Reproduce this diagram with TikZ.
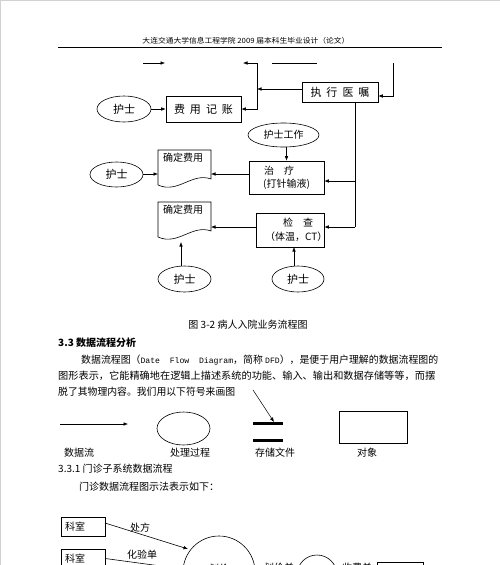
\documentclass[tikz,border=0pt]{standalone}
\usepackage{fontspec}
\usepackage{graphicx}
\setmainfont{Noto Sans CJK SC}
\newfontfamily\monofont{Liberation Mono}
\usetikzlibrary{arrows.meta,shapes.geometric}
\newcommand\fsz{\fontsize{10}{12}\selectfont}
\newcommand\fsy{\fontsize{11}{13}\selectfont}
\newcommand\mono[1]{{\monofont\fontsize{8.2}{10}\selectfont #1}}
\tikzset{
  ln/.style={line width=0.6pt},
  arr/.style={ln,-{Latex[length=4.5pt,width=3.6pt]}},
  box/.style={draw,ln,rectangle,inner sep=0pt},
  ell/.style={draw,ln,ellipse,inner sep=0pt},
  txt/.style={inner sep=0pt,font=\fsz},
}
\begin{document}
\begin{tikzpicture}[x=1pt,y=-1pt]
\useasboundingbox (0,0) rectangle (500,565);
\clip (0,0) rectangle (500,565);
\fill[white] (0,0) rectangle (500,565);
\draw[gray!35,line width=1.4pt] (0.7,565) -- (0.7,0.7) -- (500,0.7);

% header
\node[inner sep=0pt,font=\fontsize{7.2}{8}\selectfont] (hdr) at (246,41) {\resizebox{207pt}{\height}{大连交通大学信息工程学院 2009 届本科生毕业设计（论文）}};
\coordinate (h1) at (58,47); \coordinate (h2) at (442,47);
\draw[line width=0.8pt] (h1) -- (h2);

% top flow fragments
\node[box,minimum width=76pt,minimum height=19.5pt,font=\fsy] (zxyz) at (340,92.5) {执\hspace{5pt}行\hspace{5pt}医\hspace{5pt}嘱};
\node[box,minimum width=75pt,minimum height=26pt,font=\fsy] (fyjz) at (203.5,109) {费\hspace{5pt}用\hspace{5pt}记\hspace{5pt}账};
\node[ell,minimum width=54pt,minimum height=26pt,font=\fsy] (hs1) at (124,109) {护士};

\coordinate (a1) at (143,63); \coordinate (a2) at (165,63);
\draw[arr] (a1) -- (a2);
\coordinate (b1) at (257,63); \coordinate (b0) at (243,63); \coordinate (b2) at (257,89);
\draw[arr] (b1) -- (b0);
\draw[arr] (b1) |- (fyjz.east);
\draw[arr] (zxyz.west |- b2) -- (b2);
\coordinate (l1) at (272,63); \coordinate (l2) at (317,63);
\draw[ln] (l1) -- (l2);
\coordinate (c1) at (393,63); \coordinate (c2) at (393,96);
\draw[arr] (c1) -- (c2) -- (zxyz.east |- c2);
\draw[arr] (hs1) -- (fyjz);

% treatment
\node[ell,minimum width=71pt,minimum height=24pt,font=\fsz] (hsgz) at (283.5,135) {护士工作};
\node[box,minimum width=75pt,minimum height=33pt] (zl) at (286.5,177.5) {};
\node[txt,anchor=west] (zlt1) at (264,171) {治\hspace{10pt}疗};
\node[txt,anchor=west] (zlt2) at (263,184.5) {(打针输液)};
\draw[arr] (hsgz.south -| zl.north) -- (zl.north);

\node[box,minimum width=68pt,minimum height=34pt] (jc) at (290,230) {};
\node[txt,anchor=west] (jct1) at (283,223) {检\hspace{10pt}查};
\node[txt,anchor=west] (jct2) at (265,237) {（体温，CT）};

\coordinate (d1) at (355,181); \coordinate (d2) at (355,227);
\draw[ln] (zxyz.south -| d1) -- (d2);
\draw[arr] (d1) -- (zl.east |- d1);
\draw[arr] (d2) -- (jc.east |- d2);

% documents
\draw[ln] (158,150) -- (211,150) -- (211,179) .. controls (192,172) and (178,194) .. (158,185) -- cycle;
\node[txt,anchor=west] (doc1) at (163,158) {确定费用};
\draw[ln] (158,202) -- (211,202) -- (211,231) .. controls (192,224) and (178,246) .. (158,237) -- cycle;
\node[txt,anchor=west] (doc2) at (163,210) {确定费用};

\coordinate (e1) at (211,174); \coordinate (e2) at (211,227); \coordinate (e0) at (158,174);
\draw[arr] (zl.west |- e1) -- (e1);
\draw[arr] (jc.west |- e2) -- (e2);

\node[ell,minimum width=53pt,minimum height=25pt,font=\fsy] (hs2) at (116.5,174.5) {护士};
\draw[arr] (hs2.east |- e0) -- (e0);

\node[ell,minimum width=53pt,minimum height=26pt,font=\fsy] (hs3) at (184.5,279) {护士};
\node[ell,minimum width=52pt,minimum height=26pt,font=\fsy] (hs4) at (298,279) {护士};
\coordinate (f3) at (181,242); \coordinate (f4) at (294,247);
\draw[arr] (hs3.north -| f3) -- (f3);
\draw[arr] (hs4.north -| f4) -- (f4);

% caption and text
\node[txt] (cap) at (248,325) {图 3-2 病人入院业务流程图};
\node[txt,anchor=west,font=\fsz\bfseries] (sec) at (58,343) {3.3 数据流程分析};
\node[txt,anchor=west] (p1) at (81,360) {\resizebox{357pt}{\height}{数据流程图（\mono{Date\ \ Flow\ \ Diagram}，简称 \mono{DFD}），是便于用户理解的数据流程图的}};
\node[txt,anchor=west] (p2) at (58,376) {\resizebox{377pt}{\height}{图形表示，它能精确地在逻辑上描述系统的功能、输入、输出和数据存储等等，而摆}};
\node[txt,anchor=west] (p3) at (58,392) {\resizebox{177pt}{\height}{脱了其物理内容。我们用以下符号来画图}};

% symbols
\coordinate (s1) at (60,424); \coordinate (s2) at (128,424);
\draw[arr] (s1) -- (s2);
\node[ell,minimum width=53pt,minimum height=33pt] (proc) at (183.5,428.5) {};
\coordinate (t1) at (253,423); \coordinate (t2) at (283,423);
\coordinate (t3) at (253,440); \coordinate (t4) at (283,440);
\draw[line width=3pt] (t1) -- (t2);
\draw[line width=3pt] (t3) -- (t4);
\coordinate (g1) at (253,390); \coordinate (g2) at (274,422);
\draw[arr,line width=0.5pt] (g1) -- (g2);
\node[box,minimum width=68pt,minimum height=32pt] (obj) at (373,427) {};
\node[txt] (lb1) at (79,453) {数据流};
\node[txt] (lb2) at (190,453) {处理过程};
\node[txt] (lb3) at (275,453) {存储文件};
\node[txt] (lb4) at (367,453) {对象};

\node[txt,anchor=west] (sub) at (58,469) {3.3.1 门诊子系统数据流程};
\node[txt,anchor=west] (p4) at (79,487) {门诊数据流程图示法表示如下：};

% bottom DFD (cut off by the page edge)
\node[box,minimum width=44pt,minimum height=19pt,text width=36pt,align=left,font=\fsz] (ks1) at (83,526.5) {科室};
\node[box,minimum width=44pt,minimum height=19pt,text width=36pt,align=left,font=\fsz] (ks2) at (83,558.5) {科室};
\node[draw,ln,circle,minimum size=72pt,inner sep=0pt] (circ) at (219,572) {};
\node[draw,ln,circle,minimum size=40pt,inner sep=0pt] (circ2) at (317,575) {};
\node[box,minimum width=46pt,minimum height=18pt] (pat) at (400,571) {};
\coordinate (k1) at (105,523); \coordinate (k2) at (188,549);
\draw[arr] (k1) -- (k2);
\node[txt] (cf) at (140,528) {处方};
\node[txt] (hyd) at (142,555) {化验单};
\coordinate (k3) at (183,569);
\draw[arr] (ks2.east) -- (k3);
\node[txt] (hj) at (219,569) {划价};
\node[txt] (hjd) at (279,568) {划价单};
\node[txt] (sfd) at (357,568) {收费单};
\end{tikzpicture}
\end{document}
